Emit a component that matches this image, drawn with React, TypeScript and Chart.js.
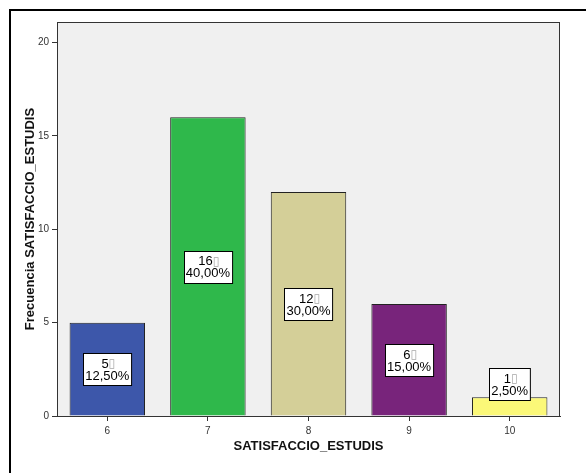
import React, { useEffect, useRef } from "react";
import { Chart, registerables } from "chart.js";

Chart.register(...registerables);

const categories = ["6", "7", "8", "9", "10"];
const counts = [5, 16, 12, 6, 1];
const percentLabels = ["12,50%", "40,00%", "30,00%", "15,00%", "2,50%"];
const barColors = ["#3d57aa", "#2fb84b", "#d4cf98", "#78247b", "#fbf878"];
const yTicks = [0, 5, 10, 15, 20];

const FONT = "'Liberation Sans', Arial, sans-serif";

const framePlugin = {
  id: "frame",
  beforeDraw(chart: any) {
    const { ctx, chartArea: a, width, height } = chart;
    ctx.save();
    ctx.fillStyle = "#ffffff";
    ctx.fillRect(0, 0, width, height);
    ctx.fillStyle = "#f0f0f0";
    ctx.fillRect(a.left, a.top, a.right - a.left, a.bottom - a.top);
    ctx.fillStyle = "#000000";
    ctx.fillRect(9, 9, width - 9, 2);
    ctx.fillRect(9, 9, 2, height - 9);
    ctx.restore();
  },
  afterDatasetsDraw(chart: any) {
    const { ctx, chartArea: a } = chart;
    ctx.save();
    ctx.strokeStyle = "#333333";
    ctx.lineWidth = 1;
    ctx.strokeRect(a.left + 0.5, a.top + 0.5, a.right - a.left - 1, a.bottom - a.top);
    ctx.restore();
  },
};

const labelPlugin = {
  id: "boxLabels",
  afterDatasetsDraw(chart: any) {
    const { ctx } = chart;
    const meta = chart.getDatasetMeta(0);
    const yScale = chart.scales.y;
    const base = yScale.getPixelForValue(0);
    ctx.save();
    meta.data.forEach((bar: any, i: number) => {
      const l1 = String(counts[i]);
      const l2 = percentLabels[i];
      const box = "\u25AF";
      ctx.font = `13px ${FONT}`;
      const w1 = ctx.measureText(l1).width;
      const w2 = ctx.measureText(l2).width;
      ctx.font = `12px 'DejaVu Sans', sans-serif`;
      const wb = ctx.measureText(box).width;
      const bw = Math.max(w1 + wb, w2) + 4;
      const bh = 32;
      const mid = (bar.y + base) / 2;
      const cy = Math.min(mid, base - 32);
      const cx = bar.x;
      const left = Math.round(cx - bw / 2) + 0.5;
      const top = Math.round(cy - bh / 2) + 0.5;
      ctx.fillStyle = "#ffffff";
      ctx.fillRect(left, top, bw, bh);
      ctx.strokeStyle = "#000000";
      ctx.lineWidth = 1;
      ctx.strokeRect(left, top, bw, bh);
      ctx.textBaseline = "middle";
      ctx.textAlign = "left";
      const start1 = cx - (w1 + wb) / 2 + 1;
      ctx.fillStyle = "#000000";
      ctx.font = `13px ${FONT}`;
      ctx.fillText(l1, start1, cy - 5);
      ctx.fillStyle = "#a8a8a8";
      ctx.font = `12px 'DejaVu Sans', sans-serif`;
      ctx.fillText(box, start1 + w1, cy - 5);
      ctx.font = `13px ${FONT}`;
      ctx.fillStyle = "#000000";
      ctx.textAlign = "center";
      ctx.fillText(l2, cx, cy + 7);
    });
    ctx.restore();
  },
};

export default function App() {
  const ref = useRef<HTMLCanvasElement | null>(null);
  useEffect(() => {
    if (!ref.current) return;
    const chart = new Chart(ref.current, {
      type: "bar",
      data: {
        labels: categories,
        datasets: [
          {
            data: counts,
            backgroundColor: barColors,
            borderColor: "#222222",
            borderWidth: 1,
            barPercentage: 0.75,
            categoryPercentage: 1,
          },
        ],
      },
      options: {
        animation: false,
        responsive: true,
        maintainAspectRatio: false,
        layout: { padding: { top: 22, right: 26, left: 0, bottom: 0 } },
        plugins: { legend: { display: false }, tooltip: { enabled: false } },
        scales: {
          x: {
            afterFit(scale: any) {
              scale.height = 57;
            },
            grid: { offset: false, drawOnChartArea: false, drawTicks: true, tickLength: 5, color: "#333333" },
            border: { display: true, color: "#333333" },
            ticks: { color: "#333333", font: { family: FONT, size: 10 }, padding: 4, maxRotation: 0 },
            title: {
              display: true,
              text: "SATISFACCIO_ESTUDIS",
              color: "#111111",
              font: { family: FONT, size: 13, weight: "bold", lineHeight: 1 },
              padding: { top: 0, bottom: 20 },
            },
          },
          y: {
            min: 0,
            max: 21.1,
            afterFit(scale: any) {
              scale.width = 57;
            },
            afterBuildTicks(scale: any) {
              scale.ticks = yTicks.map((v) => ({ value: v }));
            },
            grid: { drawOnChartArea: false, drawTicks: true, tickLength: 5, color: "#333333" },
            border: { display: true, color: "#333333" },
            ticks: { color: "#333333", font: { family: FONT, size: 10 }, padding: 3 },
            title: {
              display: true,
              text: "Frecuencia SATISFACCIO_ESTUDIS",
              color: "#111111",
              font: { family: FONT, size: 13, weight: "bold", lineHeight: 1 },
              padding: { top: 24, bottom: 0 },
            },
          },
        },
      },
      plugins: [framePlugin, labelPlugin],
    });
    return () => chart.destroy();
  }, []);
  return (
    <div style={{ position: "absolute", left: 0, top: 0, width: 586, height: 473 }}>
      <canvas ref={ref} />
    </div>
  );
}
